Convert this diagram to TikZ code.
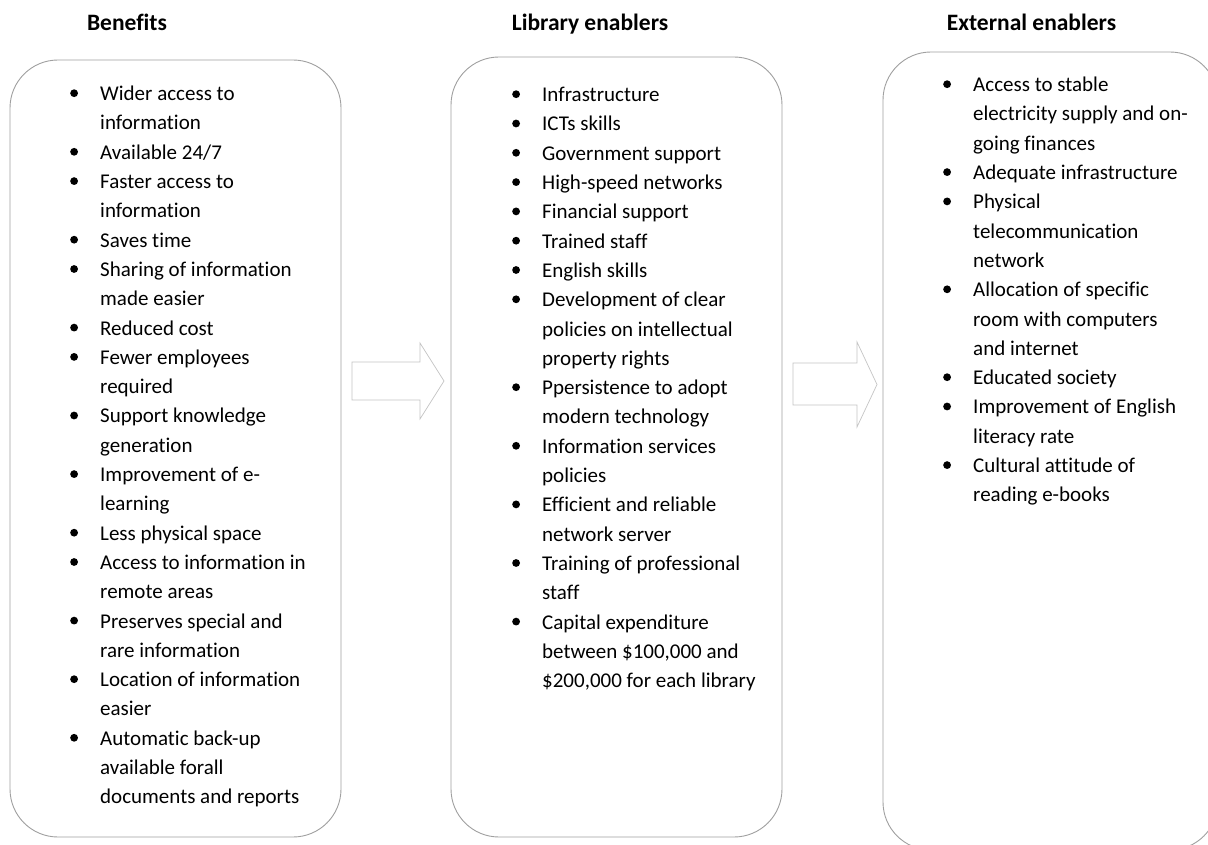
\documentclass[tikz,border=0pt]{standalone}
\usepackage{fontspec}
\setmainfont[Ligatures={NoCommon}]{Carlito}
\definecolor{boxgray}{HTML}{A0A0A0}
\definecolor{arrowgray}{HTML}{C4C4C4}
\newcommand\bul{\makebox[30pt][l]{\tikz[baseline={(0pt,-7.5pt)}]\fill[black] (0pt,0pt) circle (3.9pt);}}
\newcommand\blist[1]{\begin{tabular}[t]{@{}l@{}l@{}}#1\end{tabular}}
\begin{document}
\begin{tikzpicture}[x=1pt,y=-1pt,
  box/.style={draw=boxgray, line width=0.9pt, rounded corners=48pt, inner sep=0pt},
  blockarrow/.style={draw=arrowgray, line width=0.7pt, fill=white},
  head/.style={font=\fontsize{23.5}{28}\selectfont\bfseries, anchor=base, inner sep=0pt},
  list/.style={font=\fontsize{21}{29.3}\selectfont, anchor=base west, inner sep=0pt}]
\useasboundingbox (0,0) rectangle (1208,845);
\clip (0,0) rectangle (1208,845);
\fill[white] (0,0) rectangle (1208,845);

% headings
\node[head] (h1) at (127,31) {Benefits};
\node[head] (h2) at (590,31) {Library enablers};
\node[head] (h3) at (1031.5,31) {External enablers};

% boxes
\node[box, minimum width=331pt, minimum height=777pt] (box1) at (175.5,448.5) {};
\node[box, minimum width=331pt, minimum height=780pt] (box2) at (616.5,447) {};
\node[box, minimum width=335pt, minimum height=798pt] (box3) at (1050.5,451) {};

% block arrows
\coordinate (a1) at (352,381);
\draw[blockarrow] (a1) ++(0,-19) -- ++(68,0) -- ++(0,-19) -- (444,381) -- (420,419) -- ++(0,-19) -- ++(-68,0) -- cycle;
\coordinate (a2) at (793,384);
\draw[blockarrow] (a2) ++(0,-21) -- ++(64,0) -- ++(0,-21) -- (877,384.5) -- (857,427) -- ++(0,-22) -- ++(-64,0) -- cycle;

% lists
\node[list] (l1) at (70,100.7) {\blist{%
\bul & Wider access to\\
     & information\\
\bul & Available 24/7\\
\bul & Faster access to\\
     & information\\
\bul & Saves time\\
\bul & Sharing of information\\
     & made easier\\
\bul & Reduced cost\\
\bul & Fewer employees\\
     & required\\
\bul & Support knowledge\\
     & generation\\
\bul & Improvement of e-\\
     & learning\\
\bul & Less physical space\\
\bul & Access to information in\\
     & remote areas\\
\bul & Preserves special and\\
     & rare information\\
\bul & Location of information\\
     & easier\\
\bul & Automatic back-up\\
     & available forall\\
     & documents and reports}};

\node[list] (l2) at (512,101.7) {\blist{%
\bul & Infrastructure\\
\bul & ICTs skills\\
\bul & Government support\\
\bul & High-speed networks\\
\bul & Financial support\\
\bul & Trained staff\\
\bul & English skills\\
\bul & Development of clear\\
     & policies on intellectual\\
     & property rights\\
\bul & Ppersistence to adopt\\
     & modern technology\\
\bul & Information services\\
     & policies\\
\bul & Efficient and reliable\\
     & network server\\
\bul & Training of professional\\
     & staff\\
\bul & Capital expenditure\\
     & between \$100,000 and\\
     & \$200,000 for each library}};

\node[list] (l3) at (943,91.7) {\blist{%
\bul & Access to stable\\
     & electricity supply and on-\\
     & going finances\\
\bul & Adequate infrastructure\\
\bul & Physical\\
     & telecommunication\\
     & network\\
\bul & Allocation of specific\\
     & room with computers\\
     & and internet\\
\bul & Educated society\\
\bul & Improvement of English\\
     & literacy rate\\
\bul & Cultural attitude of\\
     & reading e-books}};
\end{tikzpicture}
\end{document}
